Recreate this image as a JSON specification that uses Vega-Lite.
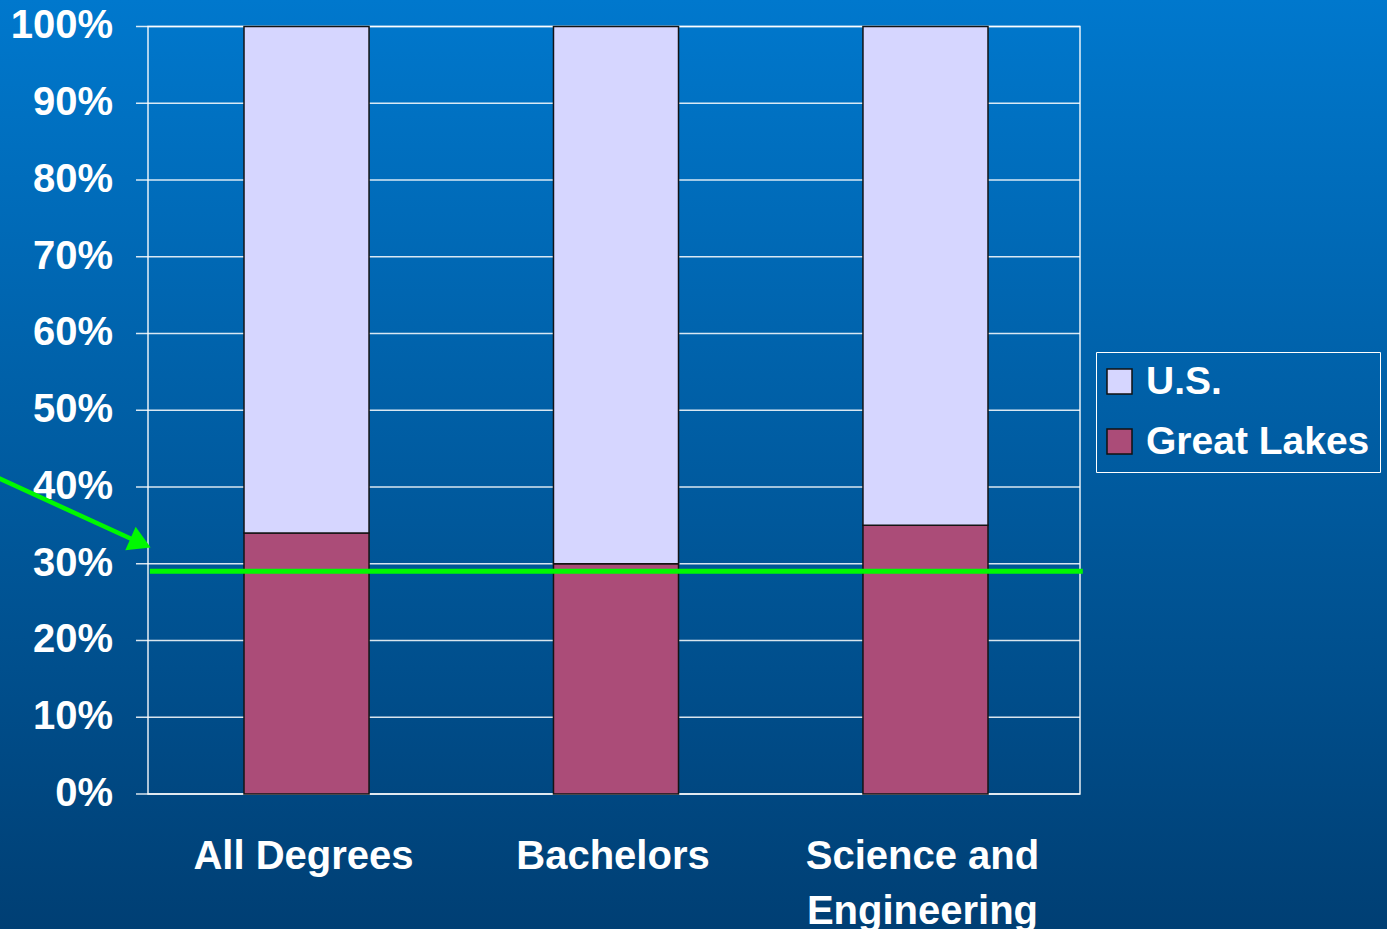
{
  "$schema": "https://vega.github.io/schema/vega-lite/v6.json",
  "width": 1387,
  "height": 929,
  "autosize": {"type": "none"},
  "padding": 0,
  "background": "#005A9E",
  "config": {
    "view": {
      "stroke": null,
      "fill": {
        "gradient": "linear",
        "x1": 0, "y1": 0, "x2": 0, "y2": 1,
        "stops": [
          {"offset": 0, "color": "#0078CD"},
          {"offset": 1, "color": "#003F74"}
        ]
      }
    },
    "font": "Liberation Sans"
  },
  "datasets": {
    "bars": [
      {"category": "All Degrees", "region": "Great Lakes", "pct": 34},
      {"category": "All Degrees", "region": "U.S.", "pct": 66},
      {"category": "Bachelors", "region": "Great Lakes", "pct": 30},
      {"category": "Bachelors", "region": "U.S.", "pct": 70},
      {"category": "Science and Engineering", "region": "Great Lakes", "pct": 35},
      {"category": "Science and Engineering", "region": "U.S.", "pct": 65}
    ],
    "grid": [
      {"pct": 0, "label": "0%"}, {"pct": 10, "label": "10%"}, {"pct": 20, "label": "20%"},
      {"pct": 30, "label": "30%"}, {"pct": 40, "label": "40%"}, {"pct": 50, "label": "50%"},
      {"pct": 60, "label": "60%"}, {"pct": 70, "label": "70%"}, {"pct": 80, "label": "80%"},
      {"pct": 90, "label": "90%"}, {"pct": 100, "label": "100%"}
    ],
    "arrow": [
      {"ax": -16.5, "ay": 41.4},
      {"ax": -1.0, "ay": 32.8}
    ]
  },
  "layer": [
    {
      "data": {"name": "grid"},
      "mark": {"type": "rule", "color": "#FFFFFF", "strokeWidth": 1.5, "opacity": 0.85},
      "encoding": {
        "y": {
          "field": "pct", "type": "quantitative",
          "scale": {"domain": [-17.6, 103.45], "nice": false, "zero": false},
          "axis": null
        },
        "x": {"datum": -1.29, "type": "quantitative", "scale": {"domain": [-15.88, 132.94], "nice": false, "zero": false}, "axis": null},
        "x2": {"datum": 100}
      }
    },
    {
      "data": {"name": "grid"},
      "mark": {"type": "text", "align": "right", "baseline": "middle", "font": "Liberation Sans", "fontWeight": "bold", "fontSize": 40, "color": "#FFFFFF"},
      "encoding": {
        "y": {
          "field": "pct", "type": "quantitative",
          "scale": {"domain": [-17.6, 103.45], "nice": false, "zero": false},
          "axis": null
        },
        "x": {"datum": -3.76, "type": "quantitative", "scale": {"domain": [-15.88, 132.94], "nice": false, "zero": false}, "axis": null},
        "text": {"field": "label", "type": "nominal"}
      }
    },
    {
      "data": {"values": [{}]},
      "mark": {"type": "rect", "fill": null, "fillOpacity": 0, "stroke": "#FFFFFF", "strokeWidth": 1.5, "opacity": 0.9},
      "encoding": {
        "x": {"datum": 0, "type": "quantitative", "scale": {"domain": [-15.88, 132.94], "nice": false, "zero": false}, "axis": null},
        "x2": {"datum": 100},
        "y": {"datum": 0, "type": "quantitative", "scale": {"domain": [-17.6, 103.45], "nice": false, "zero": false}, "axis": null},
        "y2": {"datum": 100}
      }
    },
    {
      "data": {"name": "bars"},
      "mark": {"type": "bar", "stroke": "#141414", "strokeWidth": 1.5},
      "encoding": {
        "x": {
          "field": "category", "type": "nominal",
          "sort": ["All Degrees", "Bachelors", "Science and Engineering"],
          "scale": {"range": [244, 988], "paddingInner": 0.596, "paddingOuter": 0},
          "axis": {
            "orient": "bottom",
            "offset": -135,
            "title": null,
            "domain": false,
            "ticks": false,
            "grid": false,
            "labelAngle": 0,
            "labelPadding": 42,
            "labelOffset": -3,
            "labelFont": "Liberation Sans",
            "labelFontWeight": "bold",
            "labelFontSize": 40,
            "labelColor": "#FFFFFF",
            "labelLineHeight": 55,
            "labelLimit": 0,
            "labelOverlap": false,
            "labelExpr": "datum.label == 'Science and Engineering' ? ['Science and', 'Engineering'] : datum.label"
          }
        },
        "y": {
          "field": "pct", "type": "quantitative", "stack": "zero",
          "scale": {"domain": [-17.6, 103.45], "nice": false, "zero": false},
          "axis": null
        },
        "color": {
          "field": "region", "type": "nominal",
          "scale": {"domain": ["U.S.", "Great Lakes"], "range": ["#D6D6FF", "#AB4C78"]},
          "legend": {
            "orient": "none",
            "legendX": 1096,
            "legendY": 352,
            "title": null,
            "direction": "vertical",
            "strokeColor": "#FFFFFF",
            "padding": 10,
            "symbolType": "square",
            "symbolSize": 625,
            "symbolStrokeColor": "#111111",
            "symbolStrokeWidth": 1.5,
            "symbolOpacity": 1,
            "symbolOffset": -6,
            "labelFont": "Liberation Sans",
            "labelFontWeight": "bold",
            "labelFontSize": 39,
            "labelColor": "#FFFFFF",
            "labelOffset": 7,
            "rowPadding": 20,
            "labelLimit": 0
          }
        },
        "order": {"field": "region", "sort": "ascending"}
      }
    },
    {
      "data": {"values": [{}]},
      "mark": {"type": "rule", "color": "#00F800", "strokeWidth": 5},
      "encoding": {
        "y": {"datum": 29, "type": "quantitative", "scale": {"domain": [-17.6, 103.45], "nice": false, "zero": false}, "axis": null},
        "x": {"datum": 0.2, "type": "quantitative", "scale": {"domain": [-15.88, 132.94], "nice": false, "zero": false}, "axis": null},
        "x2": {"datum": 100.3}
      }
    },
    {
      "data": {"name": "arrow"},
      "mark": {"type": "line", "color": "#00F800", "strokeWidth": 4.5},
      "encoding": {
        "x": {"field": "ax", "type": "quantitative", "scale": {"domain": [-15.88, 132.94], "nice": false, "zero": false}, "axis": null},
        "y": {"field": "ay", "type": "quantitative", "scale": {"domain": [-17.6, 103.45], "nice": false, "zero": false}, "axis": null}
      }
    },
    {
      "data": {"values": [{}]},
      "mark": {"type": "point", "shape": "triangle-right", "filled": true, "color": "#00F800", "opacity": 1, "size": 650, "angle": 24},
      "encoding": {
        "x": {"datum": -0.8, "type": "quantitative", "scale": {"domain": [-15.88, 132.94], "nice": false, "zero": false}, "axis": null},
        "y": {"datum": 32.7, "type": "quantitative", "scale": {"domain": [-17.6, 103.45], "nice": false, "zero": false}, "axis": null}
      }
    }
  ],
  "resolve": {"scale": {"x": "independent"}}
}
